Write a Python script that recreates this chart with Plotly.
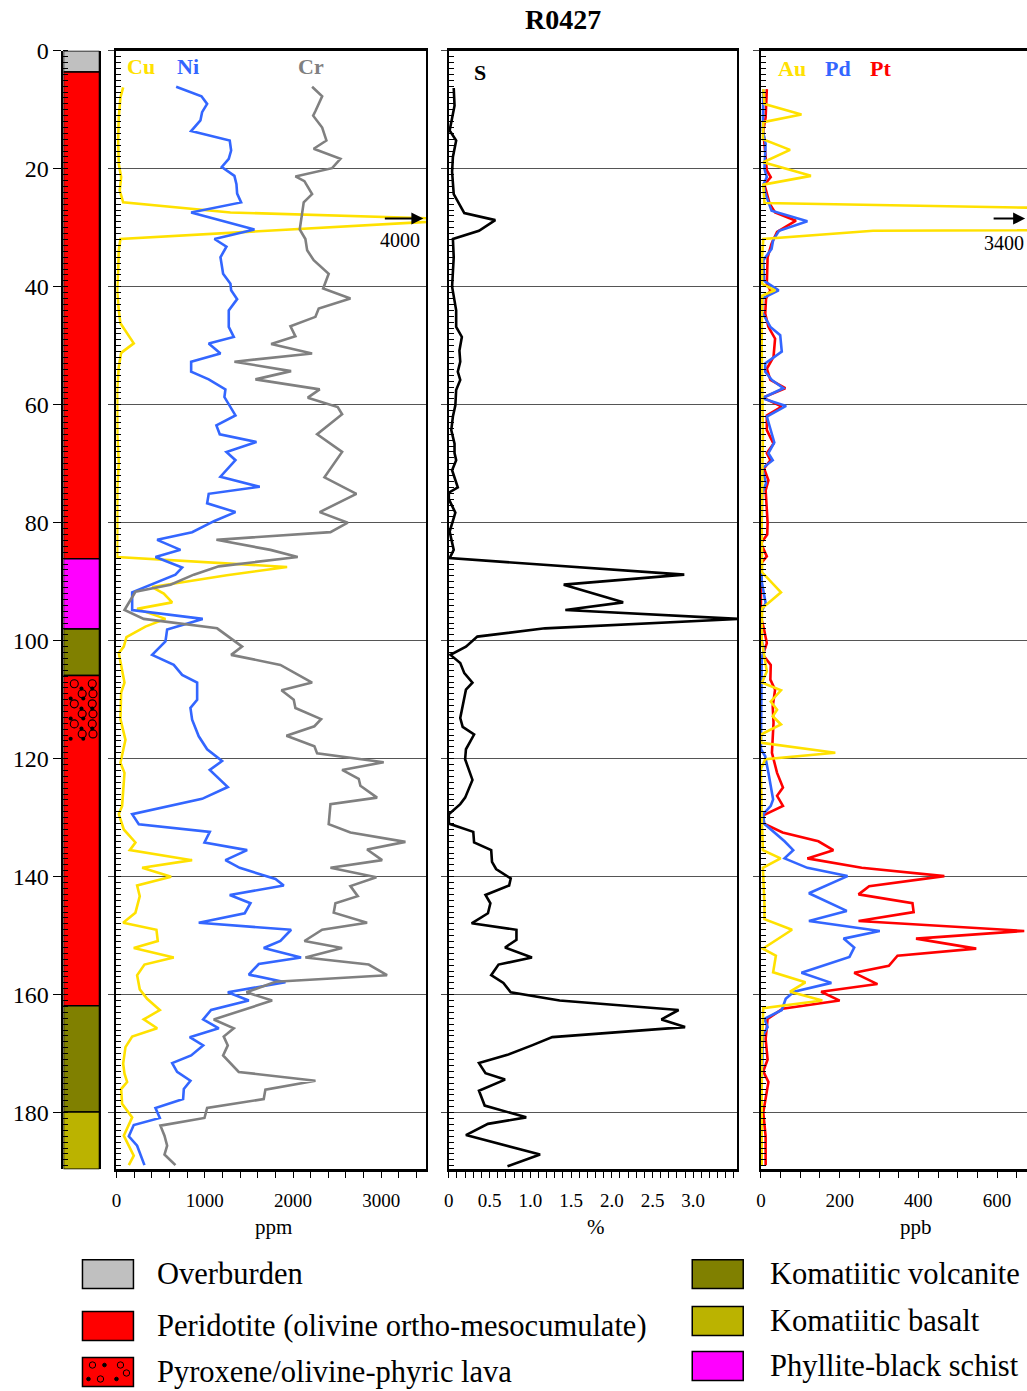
import plotly.graph_objects as go

# ---------------------------------------------------------------- data
# lithology log (depth in m)
lith_top = [0.0, 3.6, 86.1, 98.0, 105.9, 161.9, 179.9]
lith_base = [3.6, 86.1, 98.0, 105.9, 161.9, 179.9, 189.6]
lith_unit = ["Overburden", "Peridotite", "Phyllite", "Volcanite", "Peridotite", "Volcanite", "Basalt"]
lava_top, lava_base = 105.9, 117.0   # pyroxene/olivine-phyric lava interval

# Cu, Ni, Cr (ppm)
cu_depth = [6.2, 7.9, 11.3, 15.2, 19.2, 21.4, 23.7, 25.7, 27.4, 28.6, 31.9, 33.8, 37.0, 40.6, 44.0,
            46.2, 49.6, 51.2, 53.6, 57.5, 65.0, 69.9, 74.0, 80.0, 85.8, 87.5, 88.9, 90.9, 92.0, 93.5,
            94.6, 96.3, 97.6, 99.4, 101.0, 102.1, 107.1, 108.8, 113.3, 116.8, 120.7, 122.4, 126.3,
            128.0, 129.4, 132.0, 134.2, 135.5, 137.2, 138.5, 140.0, 141.5, 143.3, 146.1, 147.8, 149.0,
            150.9, 152.1, 153.7, 154.9, 156.7, 159.1, 160.7, 162.6, 164.2, 165.7, 167.1, 168.9, 171.7,
            173.4, 174.8, 176.0, 178.5, 180.8, 183.9, 187.3, 188.9]
cu_ppm = [76, 45, 26, 19, 26, 53, 37, 76, 1291, 4000, 45, 26, 20, 8, 26,
          45, 196, 53, 26, 8, 10, 26, 10, 12, 8, 1933, 1250, 404, 536, 631,
          234, 555, 328, 113, 83, 26, 91, 53, 45, 102, 45, 91, 76,
          64, 26, 83, 215, 151, 857, 291, 619, 234, 264, 215, 76, 453,
          468, 196, 649, 317, 234, 264, 347, 491, 309, 461, 178, 102, 76,
          91, 121, 53, 64, 178, 83, 196, 140]

ni_depth = [6.1, 7.7, 9.0, 10.4, 11.8, 13.6, 15.2, 16.9, 18.3, 19.7, 21.2, 22.6, 24.2, 25.7, 27.4,
            30.3, 31.9, 33.2, 35.0, 37.8, 39.5, 40.6, 42.1, 44.0, 46.8, 48.5, 49.6, 51.3, 52.7, 54.4,
            55.7, 57.4, 58.7, 60.2, 61.8, 63.5, 65.0, 66.3, 68.0, 69.4, 72.2, 73.9, 75.1, 76.7, 78.2,
            79.7, 81.6, 82.9, 84.6, 85.8, 87.6, 88.8, 91.8, 94.8, 96.3, 98.1, 100.1, 102.4, 104.1,
            105.8, 107.1, 110.0, 111.4, 113.4, 116.2, 118.4, 120.4, 121.9, 124.8, 126.8, 129.4, 131.1,
            132.4, 134.2, 135.5, 137.2, 138.5, 140.4, 141.5, 143.1, 144.5, 146.2, 147.8, 149.0, 150.9,
            152.1, 153.7, 154.8, 156.6, 157.9, 159.6, 161.0, 162.6, 164.2, 165.7, 167.2, 168.6, 170.3,
            171.6, 173.1, 174.6, 176.0, 177.7, 179.2, 180.9, 182.1, 184.0, 185.6, 188.9]
ni_ppm = [676, 963, 1027, 970, 951, 846, 1283, 1299, 1272, 1193, 1336, 1359, 1367, 1412, 846,
          1563, 1110, 1246, 1178, 1208, 1291, 1299, 1367, 1272, 1272, 1329, 1045, 1178, 846, 846,
          1045, 1234, 1223, 1283, 1348, 1132, 1170, 1586, 1246, 1348, 1178, 1623, 1045, 1027, 1348,
          1110, 857, 461, 725, 442, 744, 668, 178, 178, 977, 574, 555, 404, 649,
          744, 914, 914, 838, 857, 932, 1027, 1196, 1057, 1261, 970, 178, 253,
          1057, 997, 1480, 1234, 1396, 1801, 1895, 1283, 1518, 1453, 932, 1978, 1857,
          1668, 2091, 1612, 1499, 1914, 1261, 1499, 1072, 982, 1159, 830, 982, 846,
          631, 687, 838, 763, 755, 442, 491, 196, 140, 234, 317]

cr_depth = [6.1, 7.7, 10.2, 11.0, 13.0, 15.2, 16.6, 18.3, 19.9, 21.3, 22.1, 24.3, 25.7, 27.4, 29.3,
            30.3, 31.9, 33.8, 35.5, 37.8, 40.3, 42.0, 43.7, 45.1, 46.7, 48.4, 49.7, 51.3, 52.7, 54.3,
            55.7, 57.4, 58.8, 60.4, 61.6, 65.0, 68.0, 72.3, 75.1, 78.2, 80.0, 81.6, 82.9, 84.6, 85.8,
            87.4, 88.8, 90.5, 91.7, 94.8, 96.3, 97.9, 101.0, 102.4, 104.1, 107.1, 108.4, 110.0, 111.4,
            113.3, 114.5, 116.1, 117.9, 119.1, 120.6, 121.9, 123.4, 124.6, 126.6, 127.7, 131.1, 132.5,
            134.1, 135.4, 137.2, 138.5, 140.1, 141.6, 143.3, 144.5, 146.1, 147.8, 149.0, 150.9, 152.1,
            153.7, 154.9, 156.7, 157.8, 159.6, 161.0, 164.2, 165.7, 167.1, 168.6, 170.3, 173.1, 174.6,
            176.1, 177.7, 179.2, 180.9, 182.2, 183.9, 185.6, 187.1, 188.9]
cr_ppm = [2216, 2330, 2254, 2228, 2330, 2378, 2234, 2537, 2443, 2027, 2129, 2216, 2121, 2103, 2084,
          2076, 2140, 2160, 2234, 2404, 2341, 2650, 2291, 2254, 1971, 2027, 1752, 2216, 1336, 1978,
          1574, 2302, 2167, 2506, 2556, 2273, 2556, 2356, 2718, 2302, 2620, 2424, 1132, 1744, 2053,
          1159, 876, 612, 215, 91, 309, 1140, 1423, 1299, 1857, 2216, 1869, 2008, 2027,
          2318, 2242, 1925, 2242, 2273, 3027, 2556, 2744, 2763, 2952, 2424, 2404, 2650,
          3273, 2839, 3009, 2424, 2944, 2650, 2733, 2480, 2461, 2839, 2330, 2129, 2556,
          2140, 2857, 3065, 1801, 1472, 1763, 1102, 1329, 1215, 1261, 1208, 1385, 2254,
          1687, 1668, 1027, 997, 498, 544, 574, 544, 668]

# S (%)
s_depth = [6.3, 9.3, 13.5, 15.2, 18.0, 20.5, 24.3, 27.5, 28.7, 30.5, 31.9, 35.0, 40.0, 44.0, 46.8,
           48.5, 50.8, 52.7, 54.4, 55.8, 57.5, 60.1, 62.0, 64.3, 66.6, 68.2, 69.4, 71.1, 74.0, 74.9,
           76.0, 78.3, 81.5, 84.6, 86.0, 88.8, 90.5, 93.5, 94.8, 96.3, 97.9, 99.3, 101.0, 102.4, 103.8,
           105.5, 107.1, 108.3, 113.1, 114.6, 115.9, 118.4, 120.1, 123.6, 126.6, 127.7, 129.4, 131.0,
           132.4, 134.2, 135.5, 137.5, 138.7, 140.3, 141.5, 143.1, 144.5, 146.2, 147.9, 149.0, 150.7,
           152.0, 153.7, 154.9, 156.7, 158.0, 159.6, 161.0, 162.6, 164.2, 165.5, 167.2, 168.6, 170.2,
           171.6, 173.3, 174.4, 176.3, 178.8, 180.8, 181.9, 183.8, 187.1, 189.1]
s_pct = [0.06, 0.07, 0.01, 0.09, 0.05, 0.04, 0.06, 0.19, 0.57, 0.37, 0.05, 0.06, 0.04, 0.09, 0.09,
         0.16, 0.13, 0.14, 0.11, 0.14, 0.09, 0.08, 0.05, 0.03, 0.07, 0.07, 0.09, 0.04, 0.11, 0.0,
         0.0, 0.08, 0.01, 0.06, 0.01, 2.89, 1.41, 2.14, 1.43, 3.56, 1.18, 0.35, 0.21, 0.02, 0.14,
         0.19, 0.29, 0.21, 0.14, 0.17, 0.31, 0.21, 0.2, 0.29, 0.2, 0.14, 0.0, 0.0,
         0.3, 0.31, 0.52, 0.53, 0.58, 0.76, 0.74, 0.45, 0.51, 0.48, 0.28, 0.83, 0.83,
         0.69, 1.02, 0.61, 0.52, 0.67, 0.76, 1.36, 2.82, 2.61, 2.9, 1.27, 1.02, 0.72,
         0.37, 0.45, 0.69, 0.37, 0.44, 0.95, 0.48, 0.21, 1.12, 0.72]

# Au, Pd, Pt (ppb)
au_depth = [6.5, 9.0, 10.8, 12.1, 15.0, 16.8, 18.9, 21.2, 22.7, 25.8, 29.8, 30.5, 31.9, 35.0, 39.5,
            40.6, 41.5, 50.0, 65.0, 80.0, 88.4, 91.8, 94.5, 100.0, 105.2, 107.1, 108.4, 110.3, 111.7,
            112.8, 114.2, 115.9, 117.3, 119.0, 120.1, 121.7, 130.0, 135.5, 136.9, 138.5, 144.8, 147.2,
            149.0, 152.2, 153.4, 156.2, 157.9, 159.5, 161.0, 162.3, 170.0, 189.0]
au_ppb = [6, 9, 103, 6, 5, 74, 6, 127, 6, 9, 3400, 285, 6, 3, 3,
          36, 3, 2, 5, 2, 3, 51, 3, 2, 15, 3, 51, 25, 41,
          30, 51, 0, 0, 189, 11, 0, 2, 5, 50, 5, 9, 9,
          79, 5, 38, 31, 113, 74, 156, 6, 2, 2]

pd_depth = [6.5, 13.5, 15.8, 20.0, 21.4, 22.7, 24.3, 27.1, 28.9, 30.5, 32.1, 33.6, 35.5, 39.0, 40.6,
            42.0, 44.3, 46.8, 48.2, 51.0, 53.0, 54.4, 55.8, 57.2, 58.9, 60.2, 62.0, 64.3, 66.4, 68.2,
            69.4, 70.8, 73.3, 75.0, 80.0, 90.0, 91.9, 93.6, 95.0, 100.0, 101.5, 103.0, 118.4, 119.6,
            122.4, 126.9, 128.0, 129.4, 131.0, 134.0, 135.5, 136.9, 138.5, 139.9, 142.8, 145.8, 147.5,
            149.2, 150.5, 152.0, 153.6, 156.3, 158.0, 159.5, 160.7, 162.6, 164.1, 165.5, 166.9, 175.0,
            189.0]
pd_ppb = [6, 5, 12, 9, 15, 6, 12, 27, 118, 46, 31, 27, 6, 8, 45,
          3, 3, 24, 49, 53, 11, 11, 28, 57, 3, 64, 15, 24, 34, 19,
          30, 3, 13, 3, 2, 2, 7, 12, 2, 2, 8, 2, 0, 11,
          19, 31, 25, 6, 8, 60, 82, 60, 118, 220, 122, 218, 122,
          302, 210, 237, 225, 103, 179, 84, 63, 53, 9, 17, 5, 2,
          2]

pt_depth = [6.5, 11.3, 13.5, 20.3, 21.4, 22.7, 25.9, 27.4, 28.8, 30.7, 32.7, 35.0, 39.5, 40.6, 42.0,
            44.6, 46.8, 48.8, 51.9, 53.9, 55.8, 57.2, 58.8, 60.3, 61.8, 64.3, 66.6, 68.2, 69.4, 70.8,
            72.8, 74.5, 80.0, 82.0, 83.5, 85.7, 86.9, 96.0, 98.1, 100.4, 102.4, 104.1, 106.6, 108.3,
            111.1, 113.9, 119.0, 122.4, 124.9, 126.3, 128.0, 129.6, 131.0, 132.5, 134.0, 135.5, 136.9,
            138.5, 139.9, 141.6, 143.0, 144.5, 146.0, 147.5, 149.2, 150.5, 152.2, 153.4, 155.1, 156.3,
            158.2, 159.5, 161.0, 162.4, 164.1, 167.5, 171.0, 173.0, 174.8, 180.0, 184.0, 188.9]
pt_ppb = [15, 12, 6, 15, 25, 9, 22, 36, 89, 41, 27, 17, 15, 24, 13,
          11, 19, 36, 32, 15, 24, 62, 5, 53, 15, 15, 32, 15, 24, 8,
          19, 12, 17, 16, 0, 15, 0, 0, 8, 15, 5, 25, 24, 36,
          30, 32, 28, 41, 56, 41, 56, 6, 8, 55, 146, 184, 118,
          256, 466, 275, 248, 385, 388, 248, 669, 394, 547, 347, 325, 237,
          296, 153, 200, 55, 17, 12, 17, 6, 19, 6, 12, 12]

for a, b in [(cu_depth, cu_ppm), (ni_depth, ni_ppm), (cr_depth, cr_ppm), (s_depth, s_pct),
             (au_depth, au_ppb), (pd_depth, pd_ppb), (pt_depth, pt_ppb)]:
    assert len(a) == len(b), (len(a), len(b))

# legend entries
legend_left = ["Overburden", "Peridotite (olivine ortho-mesocumulate)", "Pyroxene/olivine-phyric lava"]
legend_right = ["Komatiitic volcanite", "Komatiitic basalt", "Phyllite-black schist"]

# ---------------------------------------------------------------- style
W, H = 1027, 1391
SERIF = "Liberation Serif, Times New Roman, serif"
YELLOW = "#ffe100"
BLUE = "#3366ff"
GREY = "#808080"
RED = "#ff0000"
UNIT_COLOR = {"Overburden": "#c0c0c0", "Peridotite": "#ff0000", "Phyllite": "#ff00ff",
              "Volcanite": "#808000", "Basalt": "#bbb300"}
LEG_COLOR = {"Overburden": "#c0c0c0", "Peridotite (olivine ortho-mesocumulate)": "#ff0000",
             "Pyroxene/olivine-phyric lava": "#ff0000", "Komatiitic volcanite": "#808000",
             "Komatiitic basalt": "#bbb300", "Phyllite-black schist": "#ff00ff"}
DEPTH_RANGE = [189.6, 0]

# the page places the figure with a small inset; positions below are given in
# screen pixels and converted back to paper fractions
X_OFF, X_SCALE = 4.5, 0.9955
Y_OFF, Y_SCALE = 12.15, 0.992


def fx(px):
    return ((px - X_OFF) / X_SCALE) / W


def fy(py):
    return 1 - ((py - Y_OFF) / Y_SCALE) / H


Y_DOM = [fy(1170), fy(50)]
LW = 2.6

fig = go.Figure()


def curve(x, y, color, xa, ya):
    fig.add_trace(go.Scatter(x=x, y=y, mode="lines", xaxis=xa, yaxis=ya,
                             line=dict(color=color, width=LW), hoverinfo="skip", showlegend=False))


curve(cu_ppm, cu_depth, YELLOW, "x2", "y2")
curve(ni_ppm, ni_depth, BLUE, "x2", "y2")
curve(cr_ppm, cr_depth, GREY, "x2", "y2")
curve(s_pct, s_depth, "black", "x3", "y3")
curve(pt_ppb, pt_depth, RED, "x4", "y4")
curve(pd_ppb, pd_depth, BLUE, "x4", "y4")
curve(au_ppb, au_depth, YELLOW, "x4", "y4")

# lava pattern inside the log column: staggered open circles and dots
circ_x, circ_y, dot_x, dot_y = [], [], [], []
row = 0
d = lava_top + 1.4
while d < lava_base - 0.3:
    xs = [0.3, 0.8] if row % 2 == 0 else [0.52, 0.82]
    ds = [0.5, 0.8] if row % 2 == 0 else [0.2, 0.55]
    for xv in xs:
        circ_x.append(xv)
        circ_y.append(d)
    for xv in ds:
        dot_x.append(xv)
        dot_y.append(d + 0.8)
    d += 1.7
    row += 1
fig.add_trace(go.Scatter(x=circ_x, y=circ_y, mode="markers", xaxis="x", yaxis="y",
                         marker=dict(symbol="circle-open", size=8, color="black", line=dict(width=1.1)),
                         hoverinfo="skip", showlegend=False))
fig.add_trace(go.Scatter(x=dot_x, y=dot_y, mode="markers", xaxis="x", yaxis="y",
                         marker=dict(symbol="circle", size=4, color="black"),
                         hoverinfo="skip", showlegend=False))

shapes = []
for top, base, unit in zip(lith_top, lith_base, lith_unit):
    shapes.append(dict(type="rect", xref="x", yref="y", x0=0, x1=1, y0=top, y1=base,
                       fillcolor=UNIT_COLOR[unit], line=dict(color="black", width=1.5), layer="below"))


# legend boxes
def legend_box(x0, y0, x1, y1, color):
    shapes.append(dict(type="rect", xref="paper", yref="paper", x0=fx(x0), x1=fx(x1),
                       y0=fy(y1), y1=fy(y0), fillcolor=color, line=dict(color="black", width=1.5)))


annotations = []
left_rows = [1275, 1327, 1373]
right_rows = [1275, 1322, 1367]
for name, yc in zip(legend_left, left_rows):
    legend_box(82, yc - 14.5, 133, yc + 14.5, LEG_COLOR[name])
    annotations.append(dict(x=fx(155), y=fy(yc), xref="paper", yref="paper", text=name,
                            showarrow=False, xanchor="left", yanchor="middle",
                            font=dict(family=SERIF, size=30.5, color="black")))
for name, yc in zip(legend_right, right_rows):
    legend_box(692, yc - 14.5, 743, yc + 14.5, LEG_COLOR[name])
    annotations.append(dict(x=fx(768), y=fy(yc), xref="paper", yref="paper", text=name,
                            showarrow=False, xanchor="left", yanchor="middle",
                            font=dict(family=SERIF, size=30.5, color="black")))

# pattern in the lava legend box: small open circles and dots
for i, (cx, cy) in enumerate([(92, 1366), (104, 1366), (120, 1366), (88, 1380), (100, 1380),
                              (116, 1380), (126, 1374)]):
    r = 3.2 if i % 2 == 0 else 1.8
    shapes.append(dict(type="circle", xref="paper", yref="paper", xsizemode="pixel", ysizemode="pixel",
                       xanchor=fx(cx), yanchor=fy(cy), x0=-r, x1=r, y0=-r, y1=r,
                       fillcolor="rgba(0,0,0,0)" if i % 2 == 0 else "black",
                       line=dict(color="black", width=1)))


# element labels
def label(text, xp, yp, color, size=22):
    annotations.append(dict(x=fx(xp), y=fy(yp), xref="paper", yref="paper", text="<b>%s</b>" % text,
                            showarrow=False, xanchor="center", yanchor="middle",
                            font=dict(family=SERIF, size=size, color=color)))


label("Cu", 141, 66, YELLOW)
label("Ni", 188, 66, BLUE)
label("Cr", 311, 66, GREY)
label("S", 480, 72, "black")
label("Au", 792, 68, YELLOW)
label("Pd", 838, 68, BLUE)
label("Pt", 880, 68, RED)

# off-scale peak markers
for x_head, x_tail, yy, text, tx, ty in [(423, 383, 218, "4000", 400, 239), (1025, 992, 218, "3400", 1004, 242)]:
    annotations.append(dict(x=fx(x_head), y=fy(yy), xref="paper", yref="paper", ax=x_tail - x_head, ay=0,
                            axref="pixel", ayref="pixel", showarrow=True, arrowhead=2, arrowsize=1.2,
                            arrowwidth=2, arrowcolor="black", text=""))
    annotations.append(dict(x=fx(tx), y=fy(ty), xref="paper", yref="paper", text=text, showarrow=False,
                            xanchor="center", yanchor="middle", font=dict(family=SERIF, size=20, color="black")))

# axis unit labels
for text, xp in [("ppm", 273), ("%", 596), ("ppb", 916)]:
    annotations.append(dict(x=fx(xp), y=fy(1228), xref="paper", yref="paper", text=text, showarrow=False,
                            xanchor="center", yanchor="middle", font=dict(family=SERIF, size=21, color="black")))

annotations.append(dict(x=fx(563), y=fy(19), xref="paper", yref="paper", text="<b>R0427</b>",
                        showarrow=False, xanchor="center", yanchor="middle",
                        font=dict(family=SERIF, size=28, color="black")))


def panel_y(domain_x_anchor):
    return dict(domain=Y_DOM, range=DEPTH_RANGE, anchor=domain_x_anchor, showticklabels=False,
                ticks="outside", ticklen=6, tickcolor="#444", dtick=20, tick0=0,
                showgrid=True, gridcolor="#555", gridwidth=1.2, zeroline=False,
                showline=True, linecolor="black", linewidth=2,
                minor=dict(dtick=1, ticks="inside", ticklen=5, tickcolor="black", showgrid=False))


def panel_x(dom, rng, anchor, dtick, minor_dtick, **kw):
    d = dict(domain=dom, range=rng, anchor=anchor, showline=True, linecolor="black", linewidth=2.5,
             mirror=True, ticks="outside", ticklen=6, tickcolor="black", dtick=dtick, tick0=0,
             showgrid=False, zeroline=False, ticklabelstandoff=6,
             tickfont=dict(family=SERIF, size=19, color="black"),
             minor=dict(dtick=minor_dtick, ticks="outside", ticklen=6, tickcolor="black", showgrid=False))
    d.update(kw)
    return d


y2 = panel_y("x2"); y2["mirror"] = True
y3 = panel_y("x3"); y3["mirror"] = True
y4 = panel_y("x4"); y4["mirror"] = False

fig.update_layout(
    width=W, height=H, margin=dict(l=0, r=0, t=0, b=0),
    paper_bgcolor="white", plot_bgcolor="white", showlegend=False,
    xaxis=dict(domain=[fx(63), fx(99)], range=[0, 1], visible=False, fixedrange=True),
    yaxis=dict(domain=Y_DOM, range=DEPTH_RANGE, anchor="x", dtick=20, tick0=0,
               ticks="outside", ticklen=8, tickcolor="black", showgrid=False, zeroline=False,
               showline=True, mirror=True, linecolor="black", linewidth=2,
               tickfont=dict(family=SERIF, size=24, color="black"),
               minor=dict(dtick=1, ticks="inside", ticklen=5, tickcolor="black", showgrid=False)),
    xaxis2=panel_x([fx(116), fx(426)], [0, 3510], "y2", 1000, 200),
    yaxis2=y2,
    xaxis3=panel_x([fx(448.5), fx(737)], [0, 3.54], "y3", 0.5, 0.1,
                   tickvals=[0, 0.5, 1.0, 1.5, 2.0, 2.5, 3.0],
                   ticktext=["0", "0.5", "1.0", "1.5", "2.0", "2.5", "3.0"]),
    yaxis3=y3,
    xaxis4=panel_x([fx(760.7), 1.0], [0, 676], "y4", 200, 50),
    yaxis4=y4,
    shapes=shapes, annotations=annotations,
)

fig.write_html("out.html")
